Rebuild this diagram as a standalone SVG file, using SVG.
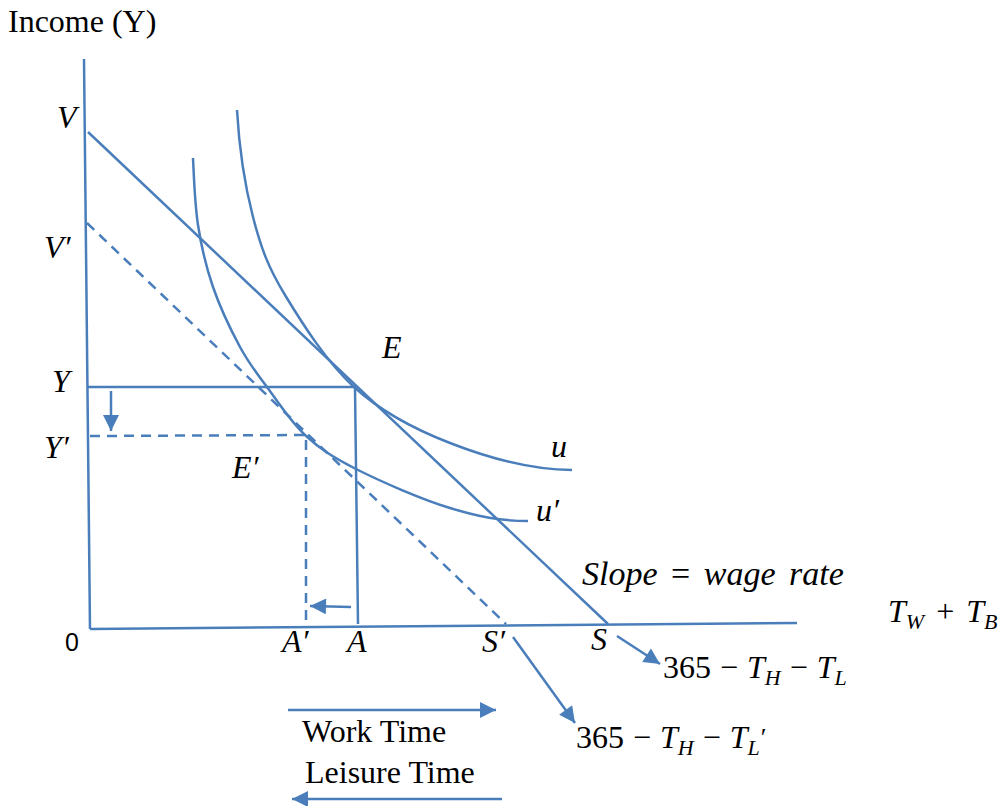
<svg xmlns="http://www.w3.org/2000/svg" width="1006" height="806" viewBox="0 0 1006 806">
<style>
.ln{fill:none;stroke:#4a7ebb;stroke-width:2.5}
.ds{fill:none;stroke:#4a7ebb;stroke-width:2.5;stroke-dasharray:10 7}
.ar{fill:none;stroke:#4a7ebb;stroke-width:2.5;marker-end:url(#ah)}
.tr{font-family:"Liberation Serif","Times New Roman",serif;font-size:32px;fill:#000}
.m{font-family:"Liberation Serif","Times New Roman",serif;font-size:32px;font-style:italic;fill:#000}
.mu{font-family:"Liberation Serif","Times New Roman",serif;font-size:32px;fill:#000}
.sb{font-size:22px;font-style:italic}
.sa{font-family:"Liberation Sans",Arial,sans-serif;font-size:25px;fill:#000}
</style>
<defs>
<marker id="ah" viewBox="0 0 10 10" refX="10" refY="5" markerWidth="17" markerHeight="16" markerUnits="userSpaceOnUse" orient="auto">
<path d="M0,0 L10,5 L0,10 z" fill="#4a7ebb"/>
</marker>
</defs>
<g id="axes">
<path class="ln" d="M84,59 L90,629"/>
<path class="ln" d="M90,629 L797,623"/>
</g>
<g id="budget-lines">
<path class="ln" d="M88,132 L608,624"/>
<path class="ds" d="M87,223 L506,624"/>
</g>
<g id="curve-u">
<path class="ln" d="M237,110 C239,146 245,186 253,217 C261,248 268,267 285,295 C302,323 326.5,362 354,387 C381.5,412 413.7,429 450,443 C486,457 530,470 572,470"/>
</g>
<g id="curve-u-prime">
<path class="ln" d="M193,158 C194,178 194.7,203.5 198,225 C201.3,246.5 206,266.7 213,287 C220,307.3 231,330.3 240,347 C249,363.7 256.2,372.3 267,387 C277.8,401.7 290.2,421.3 305,435 C319.8,448.7 331.8,456.8 356,469 C380.2,481.2 421.3,499.3 450,508 C478.7,516.7 500,521 528,521"/>
</g>
<g id="guides">
<path class="ln" d="M88,387 L355,387 L358,624"/>
<path class="ds" d="M90,436 L306,435 L306,622"/>
</g>
<g id="connectors">
<path class="ar" d="M111,391 L111,431"/>
<path class="ar" d="M351,607 L310,606"/>
<path class="ar" d="M617,636 L660,664"/>
<path class="ar" d="M513,637 L575,723"/>
<path class="ar" d="M288,710 L496,710"/>
<path class="ar" d="M502,799 L292,799"/>
</g>
<g id="labels">
<text class="tr" x="8" y="32">Income (Y)</text>
<text class="m" x="57" y="128">V</text>
<text class="m" x="44" y="258">V′</text>
<text class="m" x="382" y="358">E</text>
<text class="m" x="52" y="392">Y</text>
<text class="m" x="44" y="458">Y′</text>
<text class="m" x="232" y="478">E′</text>
<text class="m" x="551" y="457">u</text>
<text class="m" x="536" y="521">u′</text>
<text class="m" x="582" y="585" style="font-size:34px;word-spacing:5px">Slope <tspan font-style="normal">=</tspan> wage rate</text>
<text class="m" x="888" y="622">T<tspan class="sb" dy="7">W</tspan><tspan font-style="normal" dy="-7" dx="12">+</tspan><tspan dx="12">T</tspan><tspan class="sb" dy="7">B</tspan></text>
<text class="sa" x="65" y="651">0</text>
<text class="m" x="282" y="652">A′</text>
<text class="m" x="347" y="652">A</text>
<text class="m" x="482" y="652">S′</text>
<text class="m" x="591" y="650">S</text>
<text class="mu" x="663" y="678">365<tspan dx="9">−</tspan><tspan class="m" dx="9">T</tspan><tspan class="sb" dy="7">H</tspan><tspan dy="-7" dx="9">−</tspan><tspan class="m" dx="9">T</tspan><tspan class="sb" dy="7">L</tspan></text>
<text class="mu" x="576" y="748">365<tspan dx="9">−</tspan><tspan class="m" dx="9">T</tspan><tspan class="sb" dy="7">H</tspan><tspan dy="-7" dx="9">−</tspan><tspan class="m" dx="9">T</tspan><tspan class="sb" dy="7">L</tspan><tspan font-size="26" dy="-9" dx="1">′</tspan></text>
<text class="tr" x="302" y="742">Work Time</text>
<text class="tr" x="305" y="783">Leisure Time</text>
</g>
</svg>
